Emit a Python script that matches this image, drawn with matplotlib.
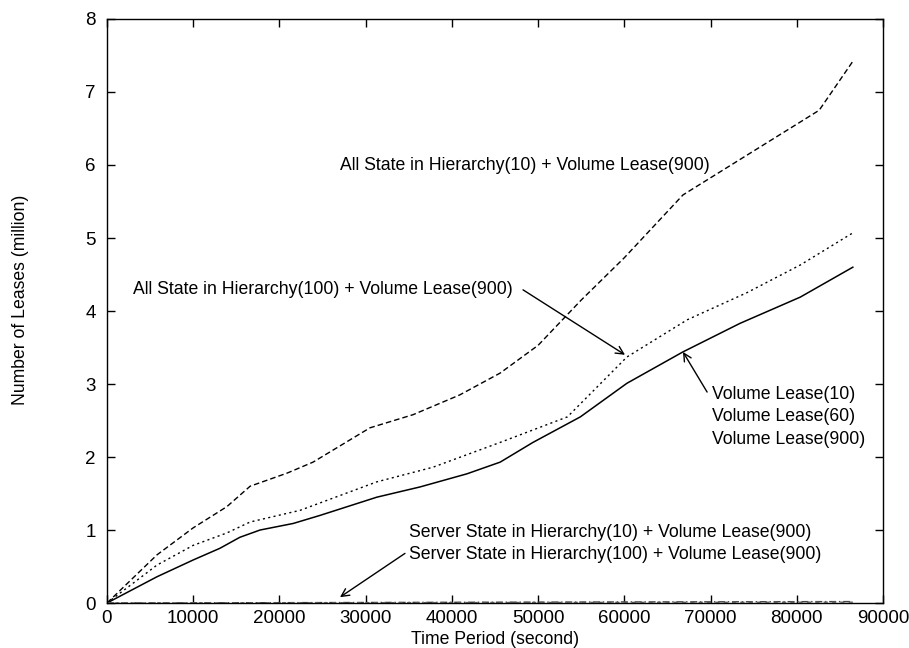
import numpy as np
import matplotlib.pyplot as plt

plt.rcParams['font.family'] = ['Liberation Sans', 'DejaVu Sans']
plt.rcParams['font.size'] = 12.7

# All State in Hierarchy(10) + Volume Lease(900)
t_h10 = [0, 5800, 10000, 13900, 16600, 20900, 23900, 30500, 35500, 40900, 45600,
         50000, 55000, 60000, 66800, 82600, 86500]
v_h10 = [0, 0.66, 1.03, 1.32, 1.60, 1.78, 1.93, 2.40, 2.58, 2.85, 3.15,
         3.53, 4.15, 4.73, 5.59, 6.75, 7.42]

# All State in Hierarchy(100) + Volume Lease(900)
t_h100 = [0, 5800, 10000, 13900, 16600, 22400, 31300, 37800, 45600, 53400, 60300,
          67300, 74200, 80400, 86500]
v_h100 = [0, 0.52, 0.79, 0.96, 1.11, 1.27, 1.66, 1.86, 2.20, 2.55, 3.37,
          3.88, 4.25, 4.63, 5.07]

# Volume Lease(10/60/900)
t_vol = [0, 5800, 10000, 13100, 15400, 17750, 21600, 24700, 31300, 36300, 41750,
         45600, 49400, 54900, 60300, 66800, 73400, 80400, 86500]
v_vol = [0, 0.36, 0.59, 0.75, 0.90, 1.00, 1.09, 1.20, 1.45, 1.59, 1.77,
         1.93, 2.20, 2.55, 3.01, 3.44, 3.83, 4.19, 4.60]

# Server State in Hierarchy(10/100) + Volume Lease(900)
t_srv = [0, 20000, 40000, 60000, 86500]
v_srv10 = [0, 0.005, 0.01, 0.015, 0.02]
v_srv100 = [0, 0.003, 0.006, 0.009, 0.012]

fig = plt.figure(figsize=(9.09, 6.48), dpi=100)
ax = fig.add_axes([0.1177, 0.0694, 0.8537, 0.9013])

ax.plot(t_h10, v_h10, color='black', lw=1.0, ls=(0, (4, 2.2)))
ax.plot(t_h100, v_h100, color='black', lw=1.0, ls=(0, (1.5, 2.4)))
ax.plot(t_vol, v_vol, color='black', lw=1.1, ls='-')
ax.plot(t_srv, v_srv10, color='#444444', lw=1.0, ls=(0, (5, 2, 1, 2)))
ax.plot(t_srv, v_srv100, color='#666666', lw=1.0, ls=(0, (3, 3)))

ax.set_xlim(0, 90000)
ax.set_ylim(0, 8)
ax.set_xticks(np.arange(0, 90001, 10000))
ax.set_yticks(np.arange(0, 9, 1))
ax.tick_params(direction='in', top=True, right=True, length=6, width=1,
               labelsize=13.5, pad=5)
ax.tick_params(axis='y', pad=8)
for s in ax.spines.values():
    s.set_linewidth(1.0)

ax.set_xlabel('Time Period (second)', labelpad=3)
ax.set_ylabel('Number of Leases (million)')
ax.yaxis.set_label_coords(-0.101, 0.52)

ax.text(27000, 5.99, 'All State in Hierarchy(10) + Volume Lease(900)',
        va='center', ha='left')

arrow = dict(arrowstyle='->', color='black', lw=1.0, shrinkA=0, shrinkB=0,
             mutation_scale=14)
ax.text(3000, 4.29, 'All State in Hierarchy(100) + Volume Lease(900)',
        va='center', ha='left')
ax.annotate('', xy=(60080, 3.40), xytext=(48250, 4.29), arrowprops=arrow)

ax.text(70170, 2.55, 'Volume Lease(10)\nVolume Lease(60)\nVolume Lease(900)',
        va='center', ha='left', linespacing=1.45)
ax.annotate('', xy=(66800, 3.44), xytext=(69600, 2.89), arrowprops=arrow)

ax.text(35030, 0.81, 'Server State in Hierarchy(10) + Volume Lease(900)\n'
        'Server State in Hierarchy(100) + Volume Lease(900)',
        va='center', ha='left', linespacing=1.4)
ax.annotate('', xy=(27020, 0.08), xytext=(34560, 0.68), arrowprops=arrow)

fig.savefig('out.png', dpi=100)
